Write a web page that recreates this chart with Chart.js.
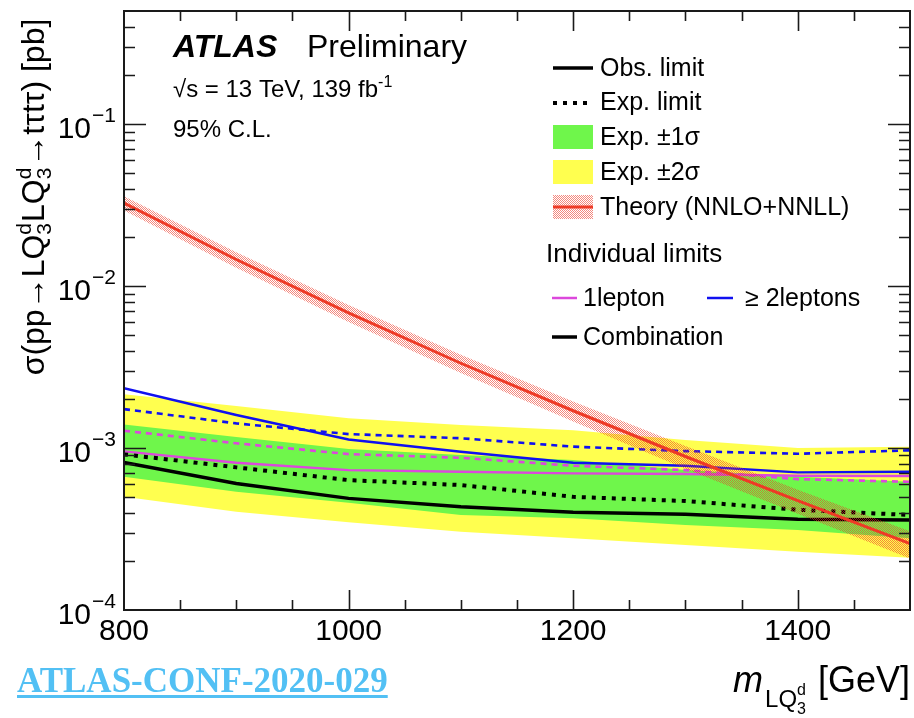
<!DOCTYPE html>
<html>
<head>
<meta charset="utf-8">
<script src="https://cdn.jsdelivr.net/npm/chart.js@4.4.0/dist/chart.umd.min.js"></script>
<style>
  body { margin: 0; background: #fff; }
  #wrap { position: relative; width: 914px; height: 718px; }
</style>
</head>
<body>
<div id="wrap"><canvas id="limitChart"></canvas></div>
<script>
// LQ3d mass points [GeV]
var masses = [800, 900, 1000, 1100, 1200, 1300, 1400, 1500];

// theory cross-section (NNLO+NNLL) and its uncertainty band [pb]
var theoryXsec = [3.26e-2, 1.46e-2, 6.83e-3, 3.34e-3, 1.70e-3, 8.87e-4, 4.73e-4, 2.57e-4];
var theoryUp   = [3.59e-2, 1.62e-2, 7.65e-3, 3.77e-3, 1.94e-3, 1.03e-3, 5.53e-4, 3.06e-4];
var theoryDown = [2.93e-2, 1.30e-2, 6.01e-3, 2.91e-3, 1.46e-3, 7.45e-4, 3.93e-4, 2.08e-4];

// combination
var obsComb   = [8.16e-4, 6.05e-4, 4.89e-4, 4.34e-4, 4.01e-4, 3.90e-4, 3.64e-4, 3.59e-4];
var expComb   = [9.14e-4, 7.60e-4, 6.34e-4, 5.91e-4, 5.00e-4, 4.71e-4, 4.16e-4, 3.86e-4];
var exp1sUp   = [1.40e-3, 1.17e-3, 9.86e-4, 9.05e-4, 8.43e-4, 7.31e-4, 6.65e-4, 6.19e-4];
var exp1sDown = [6.65e-4, 5.37e-4, 4.60e-4, 3.86e-4, 3.68e-4, 3.35e-4, 3.12e-4, 2.77e-4];
var exp2sUp   = [2.15e-3, 1.82e-3, 1.53e-3, 1.39e-3, 1.29e-3, 1.12e-3, 1.00e-3, 1.02e-3];
var exp2sDown = [5.00e-4, 4.04e-4, 3.48e-4, 3.04e-4, 2.77e-4, 2.52e-4, 2.29e-4, 2.10e-4];

// individual channels
var obs1L = [9.54e-4, 8.12e-4, 7.31e-4, 7.14e-4, 6.98e-4, 6.92e-4, 6.75e-4, 6.72e-4];
var exp1L = [1.28e-3, 1.07e-3, 9.18e-4, 8.71e-4, 7.78e-4, 7.31e-4, 6.43e-4, 6.19e-4];
var obs2L = [2.34e-3, 1.60e-3, 1.13e-3, 9.49e-4, 8.12e-4, 7.78e-4, 7.08e-4, 7.14e-4];
var exp2L = [1.74e-3, 1.42e-3, 1.22e-3, 1.15e-3, 1.02e-3, 9.58e-4, 9.22e-4, 9.68e-4];

// axis ticks
var xMajor = [800, 1000, 1200, 1400];
var yDecades = [-4, -3, -2, -1];

var GREEN = '#6ff64b', YELLOW = '#ffff4f', RED = '#ee3a26', BLUE = '#1010f0', MAGENTA = '#dc48dc';
var SANS = '"Liberation Sans", Arial, sans-serif';

function pts(arr) {
    return masses.map(function (m, i) { return { x: m, y: arr[i] }; });
}

// dotted red fill, like ROOT's fill style
function makeHatch() {
    var c = document.createElement('canvas');
    c.width = 4; c.height = 4;
    var g = c.getContext('2d');
    g.fillStyle = 'rgba(236,56,40,0.6)';
    var dots = [[0,0],[2,0],[1,1],[3,1],[0,2],[2,2],[1,3],[3,3]];
    dots.forEach(function (d) { g.fillRect(d[0], d[1], 1, 1); });
    return c;
}
var hatchCanvas = makeHatch();
var ctx = document.getElementById('limitChart').getContext('2d');
var hatch = ctx.createPattern(hatchCanvas, 'repeat');

function band(data, fill, color, order) {
    return { data: pts(data), fill: fill, backgroundColor: color, borderWidth: 0,
             pointRadius: 0, tension: 0, order: order };
}
function line(data, color, width, dash, order) {
    return { data: pts(data), borderColor: color, borderWidth: width, borderDash: dash || [],
             borderCapStyle: 'butt', fill: false, pointRadius: 0, tension: 0, order: order };
}

// writes text with optional super/subscript parts, returns end x
function drawRich(c, parts, x, y) {
    parts.forEach(function (p) {
        c.font = (p.style || '') + ' ' + p.size + 'px ' + SANS;
        if (p.stack) {
            // superscript and subscript on top of each other
            c.fillText(p.stack[0], x, y + p.dy[0]);
            c.fillText(p.stack[1], x, y + p.dy[1]);
            x += Math.max(c.measureText(p.stack[0]).width, c.measureText(p.stack[1]).width) + (p.gap || 0);
        } else {
            c.fillText(p.t, x, y + (p.dy || 0));
            x += c.measureText(p.t).width + (p.gap || 0);
        }
    });
    return x;
}
function richWidth(c, parts) {
    var w = 0;
    parts.forEach(function (p) {
        c.font = (p.style || '') + ' ' + p.size + 'px ' + SANS;
        if (p.stack) w += Math.max(c.measureText(p.stack[0]).width, c.measureText(p.stack[1]).width);
        else w += c.measureText(p.t).width;
        w += p.gap || 0;
    });
    return w;
}

var frameLayer = {
    id: 'frameLayer',
    afterDraw: function (chart) {
        var c = chart.ctx, xs = chart.scales.x, ys = chart.scales.y, a = chart.chartArea;
        c.save();
        c.strokeStyle = '#1a1a1a';
        c.lineWidth = 2;
        c.strokeRect(a.left, a.top, a.right - a.left, a.bottom - a.top);

        // ticks point inwards on all four sides
        c.lineWidth = 1.6;
        c.beginPath();
        for (var m = 850; m < 1500; m += 50) {
            var px = Math.round(xs.getPixelForValue(m)) + 0.5;
            var len = xMajor.indexOf(m) >= 0 ? 20 : 10;
            c.moveTo(px, a.bottom); c.lineTo(px, a.bottom - len);
            c.moveTo(px, a.top); c.lineTo(px, a.top + len);
        }
        yDecades.forEach(function (e) {
            for (var k = 1; k <= 9; k++) {
                var v = k * Math.pow(10, e);
                if (v >= 0.5 || v <= 1e-4) continue;
                var py = Math.round(ys.getPixelForValue(v)) + 0.5;
                var len = k === 1 ? 22 : 11;
                c.moveTo(a.left, py); c.lineTo(a.left + len, py);
                c.moveTo(a.right, py); c.lineTo(a.right - len, py);
            }
        });
        c.stroke();

        c.fillStyle = '#000';
        c.textBaseline = 'alphabetic';
        // x tick labels
        c.textAlign = 'center';
        c.font = '30px ' + SANS;
        xMajor.forEach(function (m) {
            c.fillText(String(m), xs.getPixelForValue(m), a.bottom + 30);
        });
        // y tick labels 10^n
        c.textAlign = 'left';
        yDecades.forEach(function (e) {
            var py = ys.getPixelForValue(Math.pow(10, e));
            var sup = '\u2212' + (-e);
            c.font = '21px ' + SANS;
            var sw = c.measureText(sup).width;
            c.font = '30px ' + SANS;
            var bw = c.measureText('10').width;
            var x0 = 115 - sw - bw;
            c.fillText('10', x0, py + 14);
            c.font = '21px ' + SANS;
            c.fillText(sup, x0 + bw + 1, py - 2);
        });

        // y axis title, rotated
        var yTitle = [
            { t: '\u03c3(pp\u2192LQ', size: 32 },
            { stack: ['d', '3'], dy: [-13, 7], size: 21, gap: 1 },
            { t: 'LQ', size: 32 },
            { stack: ['d', '3'], dy: [-13, 7], size: 21, gap: 1 },
            { t: '\u2192t\u03c4t\u03c4) [pb]', size: 32 }
        ];
        c.save();
        c.translate(44, 197);
        c.rotate(-Math.PI / 2);
        var tw = richWidth(c, yTitle);
        drawRich(c, yTitle, -tw / 2, 0);
        c.restore();

        // x axis title
        var xTitle = [
            { t: 'm', size: 36, style: 'italic', gap: 2 },
            { t: 'LQ', size: 24, dy: 15 },
            { stack: ['d', '3'], dy: [3, 22], size: 16, gap: 12 },
            { t: '[GeV]', size: 36 }
        ];
        drawRich(c, xTitle, a.right - richWidth(c, xTitle), 692);

        // experiment label
        c.font = 'italic bold 32px ' + SANS;
        c.fillText('ATLAS', 173, 57);
        c.font = '32px ' + SANS;
        c.fillText('Preliminary', 307, 57);
        drawRich(c, [
            { t: '\u221as = 13 TeV, 139 fb', size: 24 },
            { t: '-1', size: 16, dy: -10 }
        ], 173, 97);
        c.font = '24px ' + SANS;
        c.fillText('95% C.L.', 173, 137);

        // legend
        var lx0 = 553, lx1 = 593, tx = 600;
        c.lineWidth = 3.5; c.strokeStyle = '#000';
        c.beginPath(); c.moveTo(lx0, 68); c.lineTo(lx1, 68); c.stroke();
        c.setLineDash([4, 6]); c.lineWidth = 4;
        c.beginPath(); c.moveTo(lx0, 103); c.lineTo(lx1, 103); c.stroke();
        c.setLineDash([]);
        c.fillStyle = GREEN; c.fillRect(lx0, 125, lx1 - lx0, 24);
        c.fillStyle = YELLOW; c.fillRect(lx0, 160, lx1 - lx0, 24);
        c.fillStyle = hatch; c.fillRect(lx0, 195, lx1 - lx0, 24);
        c.strokeStyle = RED; c.lineWidth = 3;
        c.beginPath(); c.moveTo(lx0, 207); c.lineTo(lx1, 207); c.stroke();
        c.fillStyle = '#000';
        c.font = '25px ' + SANS;
        c.fillText('Obs. limit', tx, 76);
        c.fillText('Exp. limit', tx, 110);
        c.fillText('Exp. \u00b11\u03c3', tx, 145);
        c.fillText('Exp. \u00b12\u03c3', tx, 180);
        c.fillText('Theory (NNLO+NNLL)', tx, 215);
        c.font = '26px ' + SANS;
        c.fillText('Individual limits', 546, 262);
        c.lineWidth = 2.5;
        c.strokeStyle = MAGENTA;
        c.beginPath(); c.moveTo(552, 298); c.lineTo(577, 298); c.stroke();
        c.strokeStyle = BLUE;
        c.beginPath(); c.moveTo(707, 298); c.lineTo(733, 298); c.stroke();
        c.strokeStyle = '#000'; c.lineWidth = 3.5;
        c.beginPath(); c.moveTo(552, 337); c.lineTo(577, 337); c.stroke();
        c.font = '25px ' + SANS;
        c.fillText('1lepton', 583, 306);
        c.fillText('\u2265 2leptons', 745, 306);
        c.fillText('Combination', 583, 345);

        // note reference
        c.font = 'bold 35px "Liberation Serif", "Times New Roman", serif';
        c.fillStyle = '#52c0f4';
        var nw = c.measureText('ATLAS-CONF-2020-029').width;
        c.fillText('ATLAS-CONF-2020-029', 17, 692);
        c.fillRect(17, 695, nw, 3);
        c.restore();
    }
};

var limitChart = new Chart(ctx, {
    type: 'line',
    data: {
        datasets: [
            band(exp2sUp, '+1', YELLOW, 10),
            band(exp2sDown, false, YELLOW, 10),
            band(exp1sUp, '+1', GREEN, 9),
            band(exp1sDown, false, GREEN, 9),
            line(exp2L, BLUE, 2.6, [6, 5], 7),
            line(obs2L, BLUE, 2.4, null, 7),
            line(exp1L, MAGENTA, 2.6, [6, 5], 6),
            line(obs1L, MAGENTA, 2.4, null, 6),
            line(expComb, '#000', 4, [4, 6], 5),
            line(obsComb, '#000', 3.5, null, 5),
            band(theoryUp, '+1', hatch, 2),
            band(theoryDown, false, hatch, 2),
            line(theoryXsec, RED, 3, null, 1)
        ]
    },
    options: {
        responsive: true,
        maintainAspectRatio: false,
        animation: false,
        layout: { padding: { left: 124, top: 11, right: 4, bottom: 108 } },
        scales: {
            x: { type: 'linear', min: 800, max: 1500, display: false },
            y: { type: 'logarithmic', min: 1e-4, max: 0.5, display: false }
        },
        plugins: {
            legend: { display: false },
            tooltip: { enabled: false }
        }
    },
    plugins: [frameLayer]
});
</script>
</body>
</html>
